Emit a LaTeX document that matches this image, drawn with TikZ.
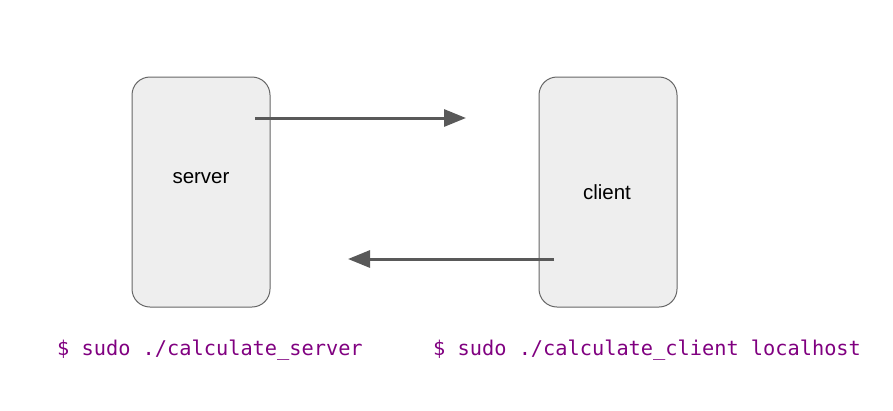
\documentclass[tikz,border=0pt]{standalone}
\usepackage{fontspec}
\setmainfont{Liberation Sans}
\newfontfamily\codefont{DejaVu Sans Mono}
\usetikzlibrary{arrows.meta}
\definecolor{boxfill}{HTML}{EEEEEE}
\definecolor{boxline}{HTML}{666666}
\definecolor{arrowgray}{HTML}{595959}
\definecolor{codepurple}{HTML}{800080}
\begin{document}
\begin{tikzpicture}[x=1pt,y=-1pt,
  hostbox/.style={draw=boxline, fill=boxfill, line width=1pt, rounded corners=18pt,
    minimum width=138pt, minimum height=230pt, inner sep=0pt},
  boxtext/.style={font=\fontsize{20.5}{24}\selectfont, text=black, inner sep=0pt, anchor=center},
  conn/.style={draw=arrowgray, line width=3pt, -{Triangle[length=22pt,width=17pt]}},
  cmd/.style={font=\codefont\fontsize{20.3}{24}\selectfont, text=codepurple, anchor=base west, inner sep=0pt}]
\useasboundingbox (0,0) rectangle (893,410);
\node[hostbox] (server) at (201,192) {};
\node[hostbox] (client) at (608,192) {};
\node[boxtext] (servertext) at (201,178) {server};
\node[boxtext] (clienttext) at (607,192) {client};
\coordinate (s1) at (255,118);
\coordinate (e1) at (466,118);
\coordinate (s2) at (554,259);
\coordinate (e2) at (348,259);
\draw[conn] (s1) -- (e1);
\draw[conn] (s2) -- (e2);
\node[cmd] (cmdserver) at (57,355) {\$ sudo ./calculate\_server};
\node[cmd] (cmdclient) at (433,355) {\$ sudo ./calculate\_client localhost};
\end{tikzpicture}
\end{document}
